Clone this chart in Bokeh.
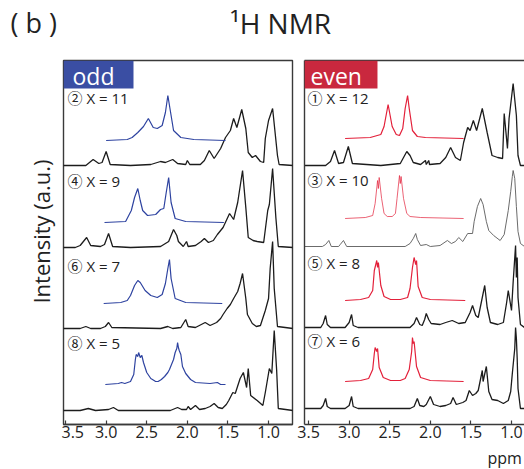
import math
import numpy as np
from bokeh.plotting import figure
from bokeh.models import Range1d, FixedTicker, Label, LinearAxis, BoxAnnotation, PrintfTickFormatter
from bokeh.layouts import column, row
from bokeh.embed import file_html
from bokeh.resources import INLINE

# ---------------- data (ppm, intensity a.u.) ----------------
# odd panel
x11_ppm = [3.53,3.25,3.16,3.09,3.05,3.00,2.95,2.70,2.45,2.33,2.27,2.18,2.12,2.02,2.00,1.97,1.84,1.79,1.73,1.67,1.59,1.53,1.47,1.43,1.39,1.33,1.28,1.25,1.20,1.16,1.10,1.06,1.04,1.00,0.95,0.89,0.87,0.70]
x11_int = [0,0,6,2,3,14,1,0,1,4,3,6,2,1,5,1,1,5,15,7,17,28,35,47,38,56,37,13,8,10,4,3,27,45,57,10,1,0]
x11_zoom_ppm = [3.00,2.74,2.68,2.61,2.54,2.48,2.42,2.37,2.31,2.27,2.24,2.21,2.17,2.08,1.92,1.53]
x11_zoom_int = [0,1,3,8,14,22,13,12,15,28,45,30,10,3,1,0]

x9_ppm = [3.53,3.38,3.32,3.24,3.19,3.07,3.02,2.97,2.92,2.70,2.33,2.23,2.17,2.13,2.11,2.05,2.01,1.99,1.90,1.83,1.79,1.74,1.68,1.63,1.56,1.48,1.43,1.38,1.32,1.28,1.25,1.19,1.14,1.06,1.01,0.99,0.95,0.91,0.88,0.70]
x9_int = [0,0,2,10,2,1,3,14,1,0,1,6,18,12,6,1,6,1,2,6,9,5,7,13,20,34,28,45,77,40,10,7,6,5,37,43,79,30,1,0]
x9_zoom_ppm = [3.02,2.76,2.69,2.65,2.61,2.58,2.55,2.49,2.39,2.33,2.29,2.26,2.23,2.20,2.15,2.02,1.55]
x9_zoom_int = [0,1,12,25,34,22,12,7,8,13,14,30,45,20,4,1,0]

x7_ppm = [3.53,3.32,3.25,3.19,3.07,3.01,2.97,2.93,2.33,2.24,2.18,2.08,2.02,1.99,1.90,1.78,1.72,1.64,1.59,1.56,1.51,1.47,1.43,1.38,1.35,1.32,1.28,1.26,1.20,1.15,1.10,1.04,1.00,0.98,0.95,0.93,0.89,0.70]
x7_int = [0,0,2,0,0,2,6,1,0,2,0,1,9,2,1,6,3,6,10,14,20,24,30,37,45,55,30,14,5,2,3,18,30,60,87,40,2,0]
x7_zoom_ppm = [3.03,2.82,2.74,2.70,2.65,2.61,2.58,2.52,2.45,2.37,2.31,2.27,2.24,2.22,2.20,2.15,2.02,1.57]
x7_zoom_int = [0,1,3,8,18,23,21,13,8,6,9,20,35,44,25,5,1,0]

x5_ppm = [3.53,3.32,3.22,3.13,2.97,2.91,2.85,2.21,2.12,2.07,2.01,1.99,1.96,1.90,1.85,1.78,1.72,1.67,1.62,1.57,1.52,1.49,1.44,1.41,1.37,1.35,1.31,1.27,1.25,1.22,1.14,1.07,1.04,0.99,0.96,0.93,0.90,0.88,0.70]
x5_int = [0,0,2,0,1,3,0,0,3,1,1,4,1,5,1,2,4,7,3,2,6,10,18,17,27,32,38,23,42,15,10,5,18,42,37,80,40,2,0]
x5_zoom_ppm = [3.01,2.85,2.81,2.77,2.70,2.66,2.64,2.63,2.61,2.60,2.58,2.56,2.54,2.50,2.45,2.39,2.36,2.32,2.28,2.24,2.22,2.20,2.17,2.15,2.13,2.12,2.11,2.10,2.08,2.06,2.02,1.96,1.90,1.72,1.63,1.59,1.53]
x5_zoom_int = [0,1,2,1,3,10,25,30,28,32,27,29,22,12,6,3,3,5,8,12,15,19,25,32,36,42,37,34,30,18,11,5,2,1,2,0,0]

# even panel
x12_ppm = [3.55,3.29,3.23,3.18,3.13,3.07,3.01,2.96,2.61,2.37,2.33,2.29,2.25,2.21,2.12,2.06,2.05,2.02,2.01,1.88,1.81,1.75,1.69,1.63,1.59,1.54,1.51,1.47,1.43,1.36,1.30,1.24,1.17,1.11,1.09,1.05,1.03,0.98,0.94,0.92,0.89,0.84]
x12_int = [0,0,4,15,2,3,19,2,0,2,8,14,10,3,1,5,1,5,1,2,8,18,8,5,23,38,35,45,35,57,33,10,8,7,52,17,47,82,50,10,0,0]
x12_zoom_ppm = [3.05,2.74,2.61,2.57,2.52,2.47,2.42,2.38,2.34,2.31,2.28,2.26,2.22,2.16,2.06,1.59]
x12_zoom_int = [0,1,4,12,34,12,4,3,10,30,43,30,8,2,1,0]

x10_ppm = [3.55,3.33,3.29,3.25,3.22,3.13,3.11,3.07,3.03,2.31,2.25,2.21,2.18,2.16,2.12,2.05,2.00,1.88,1.79,1.74,1.69,1.65,1.60,1.54,1.48,1.46,1.42,1.38,1.35,1.31,1.28,1.22,1.14,1.09,1.04,1.01,0.99,0.98,0.96,0.94,0.92,0.89,0.84]
x10_int = [0,0,2,6,0,0,2,6,0,0,3,8,13,7,1,2,0,1,6,3,5,9,5,13,13,25,40,48,42,25,16,11,6,12,36,55,70,76,68,40,15,3,0]
x10_zoom_ppm = [3.05,2.80,2.71,2.68,2.65,2.64,2.63,2.60,2.57,2.53,2.47,2.43,2.41,2.38,2.37,2.36,2.33,2.29,2.25,2.12,1.59]
x10_zoom_int = [0,1,3,15,38,30,41,20,5,2,2,5,20,43,35,42,20,5,2,1,0]

x8_ppm = [3.55,3.35,3.32,3.29,3.27,3.23,3.05,3.00,2.97,2.95,2.89,2.25,2.20,2.17,2.13,2.10,2.07,2.05,2.02,1.99,1.88,1.81,1.73,1.65,1.57,1.51,1.48,1.44,1.41,1.36,1.33,1.30,1.26,1.17,1.10,1.06,1.04,1.00,0.98,0.95,0.94,0.93,0.92,0.89,0.84]
x8_int = [0,0,4,12,3,0,0,5,13,2,0,0,4,10,3,2,8,14,8,4,3,5,7,4,5,15,22,12,10,30,42,20,5,3,5,25,37,17,45,82,50,70,30,3,0]
x8_zoom_ppm = [3.05,2.86,2.76,2.71,2.69,2.66,2.65,2.64,2.61,2.57,2.49,2.37,2.28,2.25,2.22,2.20,2.18,2.17,2.15,2.10,2.00,1.57]
x8_zoom_int = [0,1,3,10,30,40,33,38,15,4,1,1,3,12,33,43,36,40,14,3,1,0]

x6_ppm = [3.55,3.35,3.32,3.29,3.27,3.23,3.05,3.00,2.97,2.95,2.89,2.25,2.20,2.16,2.13,2.08,2.05,2.00,1.96,1.88,1.81,1.75,1.72,1.68,1.60,1.56,1.52,1.48,1.44,1.41,1.36,1.35,1.31,1.28,1.24,1.17,1.10,1.04,1.01,0.99,0.96,0.95,0.94,0.93,0.92,0.89,0.84]
x6_int = [0,0,3,10,2,0,0,3,12,2,0,0,2,10,3,2,4,12,4,2,3,5,11,4,6,8,18,13,15,18,38,27,42,17,9,8,5,8,17,35,60,81,70,50,20,0,0]
x6_zoom_ppm = [3.05,2.86,2.76,2.71,2.69,2.68,2.66,2.65,2.63,2.58,2.49,2.37,2.31,2.26,2.23,2.22,2.21,2.20,2.17,2.12,2.00,1.59]
x6_zoom_int = [0,1,3,12,28,34,30,33,14,4,1,1,3,12,30,44,38,40,15,4,1,0]

odd_labels = ["\u2461 X = 11", "\u2463 X = 9", "\u2465 X = 7", "\u2467 X = 5"]
even_labels = ["\u2460 X = 12", "\u2462 X = 10", "\u2464 X = 8", "\u2466 X = 6"]
tick_values = [3.5, 3.0, 2.5, 2.0, 1.5, 1.0]

# ---------------- styling / layout ----------------
FONT = "'Open Sans', 'Noto Sans CJK JP', sans-serif"
BLACK = "#1c1c1c"
GREY = "#5a5a5a"
BLUE = "#2e43a0"
RED = "#e3203a"
BADGE_BLUE = "#3a4ea3"
BADGE_RED = "#c9283e"
FRAME = "#3a3a3a"
TXT = "#222222"


def make_panel(x0, x1, border_left, border_right, frame_w, outline):
    p = figure(frame_width=frame_w, frame_height=364,
               x_range=Range1d(x0, x1), y_range=Range1d(0, 364),
               output_backend="svg", toolbar_location=None,
               min_border_left=border_left, min_border_right=border_right,
               min_border_top=2, min_border_bottom=24,
               y_axis_location=None)
    p.grid.visible = False
    p.outline_line_color = FRAME if outline else None
    p.outline_line_width = 1.4
    xa = p.xaxis[0]
    xa.ticker = FixedTicker(ticks=tick_values, minor_ticks=[])
    xa.formatter = PrintfTickFormatter(format="%.1f")
    xa.major_tick_in = 4
    xa.major_tick_out = 0
    xa.minor_tick_in = 0
    xa.minor_tick_out = 0
    xa.major_label_standoff = 1
    xa.major_label_text_font = FONT
    xa.major_label_text_font_size = "16px"
    xa.major_label_text_color = TXT
    xa.axis_line_color = FRAME
    xa.axis_line_width = 1.4
    xa.major_tick_line_color = FRAME
    xa.major_tick_line_width = 1.2
    return p


def line_only_axis():
    return LinearAxis(ticker=FixedTicker(ticks=[], minor_ticks=[]),
                      major_label_text_font_size="0px", major_tick_in=0,
                      major_tick_out=0, minor_tick_in=0, minor_tick_out=0,
                      major_label_standoff=0, axis_line_color=FRAME,
                      axis_line_width=1.4)


def blank(w, h):
    f = figure(width=w, height=h, x_range=Range1d(0, 1), y_range=Range1d(0, 1),
               output_backend="svg", toolbar_location=None, min_border=0,
               x_axis_location=None, y_axis_location=None, outline_line_color=None)
    f.grid.visible = False
    return f


left = make_panel(3.525, 0.705, 2, 2, 229, True)
right = make_panel(3.55, 0.84, 10, 0, 220, False)
right.add_layout(line_only_axis(), "left")
right.add_layout(line_only_axis(), "above")

# stacking offsets of each trace (layout)
odd_traces = [(x11_ppm, x11_int, 259, x11_zoom_ppm, x11_zoom_int, 284),
              (x9_ppm, x9_int, 177, x9_zoom_ppm, x9_zoom_int, 202),
              (x7_ppm, x7_int, 96, x7_zoom_ppm, x7_zoom_int, 121),
              (x5_ppm, x5_int, 14, x5_zoom_ppm, x5_zoom_int, 40)]
even_traces = [(x12_ppm, x12_int, 259, x12_zoom_ppm, x12_zoom_int, 286),
               (x10_ppm, x10_int, 178, x10_zoom_ppm, x10_zoom_int, 206),
               (x8_ppm, x8_int, 97, x8_zoom_ppm, x8_zoom_int, 124),
               (x6_ppm, x6_int, 16, x6_zoom_ppm, x6_zoom_int, 43)]

for i, (px, py, off, zx, zy, zoff) in enumerate(odd_traces):
    left.line(px, np.array(py) + off, line_color=BLACK, line_width=1.3)
    left.line(zx, np.array(zy) + zoff, line_color=BLUE, line_width=1.2)

for i, (px, py, off, zx, zy, zoff) in enumerate(even_traces):
    thin = (i == 1)
    right.line(px, np.array(py) + off, line_color=GREY if thin else BLACK,
               line_width=0.9 if thin else 1.3)
    right.line(zx, np.array(zy) + zoff, line_color=RED,
               line_width=0.7 if thin else 1.2)

# trace labels
odd_label_y = [327, 244, 159, 82]
even_label_y = [327, 245, 162, 84]
for t, y in zip(odd_labels, odd_label_y):
    left.add_layout(Label(x=3.476, y=y, text=t, text_font=FONT, text_font_size="15px",
                          text_color=TXT, text_baseline="middle", text_align="left"))
for t, y in zip(even_labels, even_label_y):
    right.add_layout(Label(x=3.513, y=y, text=t, text_font=FONT, text_font_size="15px",
                           text_color=TXT, text_baseline="middle", text_align="left"))

# badges
left.add_layout(BoxAnnotation(left=3.525, right=2.663, bottom=336, top=364,
                              fill_color=BADGE_BLUE, fill_alpha=1.0, line_color=None))
left.add_layout(Label(x=3.414, y=349, text="odd", text_font=FONT, text_font_size="23px",
                      text_color="white", text_baseline="alphabetic"))
right.add_layout(BoxAnnotation(left=3.55, right=2.651, bottom=336, top=364,
                               fill_color=BADGE_RED, fill_alpha=1.0, line_color=None))
right.add_layout(Label(x=3.476, y=349, text="even", text_font=FONT, text_font_size="23px",
                       text_color="white", text_baseline="alphabetic"))

# title strip
title = blank(524, 58)
title.add_layout(Label(x=10, y=36, x_units="screen", y_units="screen", text="( b )",
                       text_font=FONT, text_font_size="27px", text_color=TXT,
                       text_baseline="alphabetic"))
title.add_layout(Label(x=280, y=36, x_units="screen", y_units="screen", text="\u00b9H NMR",
                       text_font=FONT, text_font_size="28px", text_color=TXT,
                       text_baseline="alphabetic", text_align="center"))

# y-axis title strip
ylab = blank(61, 390)
ylab.add_layout(Label(x=40, y=193, x_units="screen", y_units="screen",
                      text="Intensity (a.u.)", angle=math.pi / 2,
                      text_font=FONT, text_font_size="22px", text_color=TXT,
                      text_align="center", text_baseline="middle"))

# x-axis unit strip
xlab = blank(524, 21)
xlab.add_layout(Label(x=487, y=12, x_units="screen", y_units="screen",
                      text="ppm", text_font=FONT, text_font_size="16px",
                      text_color=TXT, text_align="left", text_baseline="alphabetic"))

layout = column(title, row(ylab, left, right, spacing=0), xlab, spacing=0)

open("out.html", "w").write(file_html(layout, INLINE))
